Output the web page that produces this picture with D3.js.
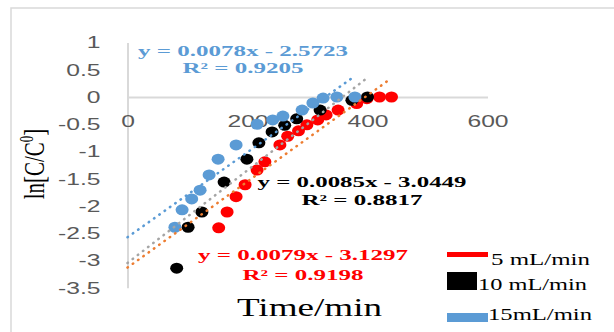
<!DOCTYPE html>
<html>
<head>
<meta charset="utf-8">
<script src="https://cdn.jsdelivr.net/npm/d3@7"></script>
<style>
  body { margin: 0; background: #fff; }
  svg { display: block; }
</style>
</head>
<body>
<svg id="chart" width="614" height="332"></svg>
<script>
// Data: time (min) and ln[C/C0] for each flow rate
const time5 = [152, 166, 181, 196, 216, 229, 254, 267, 285, 299, 317, 331, 351, 382, 399, 420, 440];
const ln5 = [-2.40, -2.11, -1.83, -1.61, -1.34, -1.19, -0.88, -0.72, -0.62, -0.51, -0.42, -0.33, -0.24, -0.12, -0.03, 0, 0];

const time10 = [82, 101, 124, 161, 199, 219, 241, 262, 282, 321, 374, 400];
const ln10 = [-3.14, -2.39, -2.11, -1.56, -1.14, -0.84, -0.64, -0.52, -0.40, -0.24, -0.06, 0];

const time15 = [79, 91, 107, 121, 136, 151, 181, 216, 242, 259, 291, 309, 326, 349, 379];
const ln15 = [-2.39, -2.07, -1.87, -1.71, -1.43, -1.14, -0.88, -0.50, -0.42, -0.35, -0.24, -0.11, -0.02, 0, 0];

// Linear trendlines (from the chart labels)
const seriesNames = ["5 mL/min", "10 mL/min", "15mL/min"];
const slopes = [0.0079, 0.0085, 0.0078];
const intercepts = [-3.1297, -3.0449, -2.5723];
const r2 = [0.9198, 0.8817, 0.9205];

const xTicks = [0, 200, 400, 600];
const yTicks = [1, 0.5, 0, -0.5, -1, -1.5, -2, -2.5, -3, -3.5];

const svg = d3.select("#chart");
const serif = "'Liberation Serif', 'Times New Roman', serif";
const sans = "'Liberation Sans', Arial, sans-serif";

// the reference image is stretched sideways, so text is widened too
function stretch(sel, k) {
    sel.each(function () {
        const w = this.getComputedTextLength();
        d3.select(this).attr("textLength", w * k).attr("lengthAdjust", "spacingAndGlyphs");
    });
}

// Chart border
svg.append("rect")
    .attr("x", 11).attr("y", 8)
    .attr("width", 640).attr("height", 360)
    .attr("fill", "none")
    .attr("stroke", "#d9d9d9")
    .attr("stroke-width", 1.5);

// Scales
const x = d3.scaleLinear().domain([0, 600]).range([127.5, 487.5]);
const y = d3.scaleLinear().domain([-3.5, 1]).range([287.75, 42.5]);

// y axis crosses at x = 0
const yAxis = svg.append("g")
    .attr("transform", `translate(${x(0)},0)`)
    .call(d3.axisLeft(y).tickValues(yTicks).tickSize(0).tickPadding(27)
        .tickFormat(d => d3.format("")(d).replace("−", "-")));
yAxis.select(".domain").attr("stroke", "#d9d9d9").attr("stroke-width", 2);
yAxis.selectAll("text")
    .attr("fill", "#595959")
    .style("font-family", sans)
    .style("font-size", "17px")
    .call(stretch, 1.45);

// x axis crosses at y = 0
const xAxis = svg.append("g")
    .attr("transform", `translate(0,${y(0)})`)
    .call(d3.axisBottom(x).tickValues(xTicks).tickSize(0).tickPadding(18));
xAxis.select(".domain").attr("stroke", "#d9d9d9").attr("stroke-width", 2);
xAxis.selectAll("text")
    .attr("fill", "#595959")
    .style("font-family", sans)
    .style("font-size", "17px")
    .call(stretch, 1.45);

// Series markers
const series = [
    { name: seriesNames[0], t: time5, v: ln5, color: "#ff0000", trend: "#ed7d31" },
    { name: seriesNames[1], t: time10, v: ln10, color: "#000000", trend: "#a5a5a5" },
    { name: seriesNames[2], t: time15, v: ln15, color: "#5b9bd5", trend: "#5b9bd5" }
];

series.forEach(s => {
    svg.append("g")
        .selectAll("ellipse")
        .data(s.t.map((t, i) => [t, s.v[i]]))
        .enter().append("ellipse")
        .attr("cx", d => x(d[0]))
        .attr("cy", d => y(d[1]))
        .attr("rx", 6.5)
        .attr("ry", 5.5)
        .attr("fill", s.color);
});

// Dotted trendlines, from x = 0 to the last time of each series
series.forEach((s, i) => {
    const xEnd = d3.max(s.t);
    svg.append("line")
        .attr("x1", x(0))
        .attr("y1", y(intercepts[i]))
        .attr("x2", x(xEnd))
        .attr("y2", y(slopes[i] * xEnd + intercepts[i]))
        .attr("stroke", s.trend)
        .attr("stroke-width", 2.5)
        .attr("stroke-linecap", "round")
        .attr("stroke-dasharray", "0.5,6");
});

// Trendline equations
const labelPos = [
    { cx: 303, y1: 260, y2: 280, w1: 210, w2: 121, color: "#ff0000" },
    { cx: 362, y1: 187, y2: 205, w1: 209, w2: 121, color: "#000000" },
    { cx: 243, y1: 56, y2: 73, w1: 210, w2: 121, color: "#5b9bd5" }
];
labelPos.forEach((p, i) => {
    const eq = `y = ${slopes[i]}x - ${Math.abs(intercepts[i])}`;
    const rr = `R² = ${r2[i]}`;
    [[eq, p.y1, p.w1], [rr, p.y2, p.w2]].forEach(([txt, ty, tw]) => {
        svg.append("text")
            .attr("x", p.cx)
            .attr("y", ty)
            .attr("text-anchor", "middle")
            .attr("fill", p.color)
            .attr("font-weight", "bold")
            .style("font-family", serif)
            .style("font-size", "15px")
            .attr("textLength", tw)
            .attr("lengthAdjust", "spacingAndGlyphs")
            .text(txt);
    });
});

// Axis titles
svg.append("text")
    .attr("x", 237)
    .attr("y", 316)
    .attr("fill", "#000")
    .style("font-family", serif)
    .style("font-size", "26px")
    .attr("textLength", 145)
    .attr("lengthAdjust", "spacingAndGlyphs")
    .text("Time/min");

const yTitle = svg.append("text")
    .attr("transform", "translate(44,164) scale(1.4,1) rotate(-90)")
    .attr("text-anchor", "middle")
    .attr("fill", "#000")
    .style("font-family", serif)
    .style("font-size", "21px");
yTitle.append("tspan").text("ln[C/C");
yTitle.append("tspan").attr("dy", -8).style("font-size", "13px").text("0");
yTitle.append("tspan").attr("dy", 8).text("]");

// Legend
const legendItems = [
    { rx: 447, ry: 252, rw: 41, rh: 5, tx: 491, ty: 265, tw: 99 },
    { rx: 447, ry: 272, rw: 30, rh: 18, tx: 478, ty: 290, tw: 109 },
    { rx: 447, ry: 313, rw: 41, rh: 9, tx: 488, ty: 320, tw: 104 }
];
legendItems.forEach((d, i) => {
    svg.append("rect")
        .attr("x", d.rx).attr("y", d.ry)
        .attr("width", d.rw).attr("height", d.rh)
        .attr("fill", series[i].color);
    svg.append("text")
        .attr("x", d.tx)
        .attr("y", d.ty)
        .attr("fill", "#000")
        .style("font-family", serif)
        .style("font-size", "16px")
        .attr("textLength", d.tw)
        .attr("lengthAdjust", "spacingAndGlyphs")
        .text(seriesNames[i]);
});
</script>
</body>
</html>
